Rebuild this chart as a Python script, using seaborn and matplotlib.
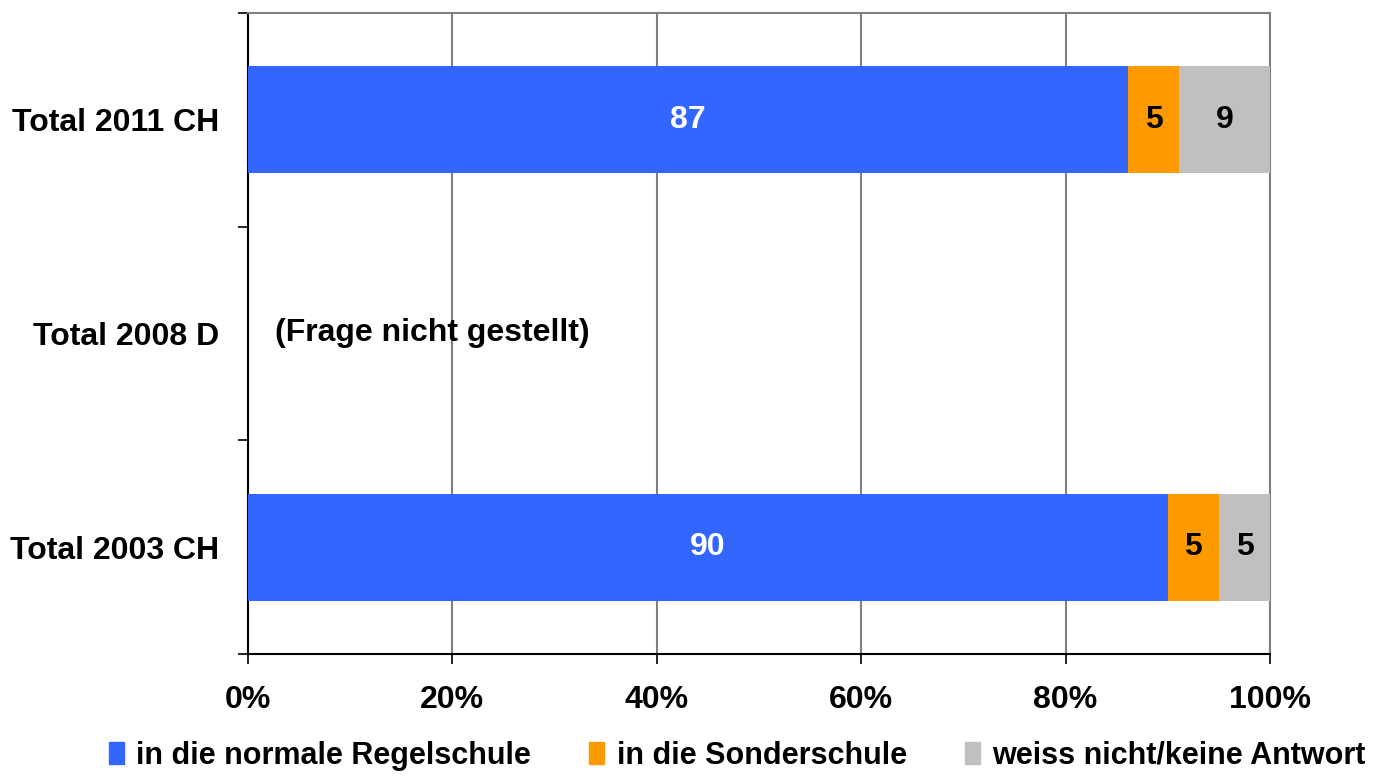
import pandas as pd
import numpy as np
import matplotlib.pyplot as plt
import seaborn as sns
from matplotlib.patches import Patch

sns.set_style('white')
plt.rcParams['font.family'] = ['Liberation Sans', 'DejaVu Sans']
plt.rcParams['font.weight'] = 'bold'
plt.rcParams['text.color'] = 'black'
plt.rcParams['xtick.color'] = 'black'
plt.rcParams['ytick.color'] = 'black'

categories = ['Total 2011 CH', 'Total 2008 D', 'Total 2003 CH']
regelschule = [87, np.nan, 90]
sonderschule = [5, np.nan, 5]
weiss_nicht = [9, np.nan, 5]
series_names = ['in die normale Regelschule', 'in die Sonderschule', 'weiss nicht/keine Antwort']
colors = ['#3366FF', '#FF9900', '#C0C0C0']
note_text = '(Frage nicht gestellt)'

df = pd.DataFrame({'cat': categories, 'regel': regelschule,
                   'sonder': sonderschule, 'weiss': weiss_nicht})
total = df[['regel', 'sonder', 'weiss']].sum(axis=1, min_count=1)
df['p1'] = df['regel'] / total * 100
df['p2'] = (df['regel'] + df['sonder']) / total * 100
df['p3'] = (df['regel'] + df['sonder'] + df['weiss']) / total * 100

fs = 23
fig = plt.figure(figsize=(13.99, 7.81), dpi=100)
ax = fig.add_axes([248 / 1399, 1 - 654 / 781, (1270 - 248) / 1399, (654 - 13) / 781])

# stack by drawing cumulative totals back to front
for col, c in zip(['p3', 'p2', 'p1'], colors[::-1]):
    sns.barplot(data=df, y='cat', x=col, order=categories, color=c,
                orient='h', width=0.5, saturation=1, ax=ax, zorder=3,
                linewidth=0)

# value labels
for i, row in df.iterrows():
    if np.isnan(row['regel']):
        continue
    ax.text(row['p1'] / 2, i, f"{row['regel']:.0f}", color='white',
            ha='center', va='center', fontsize=fs, fontweight='bold', zorder=4)
    ax.text((row['p1'] + row['p2']) / 2, i, f"{row['sonder']:.0f}", color='black',
            ha='center', va='center', fontsize=fs, fontweight='bold', zorder=4)
    ax.text((row['p2'] + row['p3']) / 2, i, f"{row['weiss']:.0f}", color='black',
            ha='center', va='center', fontsize=fs, fontweight='bold', zorder=4)
ax.text(2.6, 1, note_text, ha='left', va='center', fontsize=fs,
        fontweight='bold', zorder=4)

ax.set_xlim(0, 100)
ax.set_ylim(2.5, -0.5)
ax.set_xticks([0, 20, 40, 60, 80, 100])
ax.set_xticklabels([f'{v}%' for v in range(0, 101, 20)])
ax.set_xlabel('')
ax.set_ylabel('')
ax.set_yticks([-0.5, 0.5, 1.5, 2.5], minor=True)
ax.tick_params(axis='y', which='major', length=0, pad=21, labelsize=fs)
ax.tick_params(axis='y', which='minor', length=7, width=1.2, direction='out', left=True)
ax.tick_params(axis='x', length=7, width=1.2, direction='out', bottom=True, pad=15, labelsize=fs)
for lab in ax.get_xticklabels() + ax.get_yticklabels():
    lab.set_fontweight('bold')

ax.grid(axis='x', color='#808080', linewidth=1.5, zorder=0)
ax.set_axisbelow(True)
for side in ['left', 'bottom']:
    ax.spines[side].set_color('black')
    ax.spines[side].set_linewidth(1.5)
for side in ['top', 'right']:
    ax.spines[side].set_color('#808080')
    ax.spines[side].set_linewidth(1.5)

handles = [Patch(color=c) for c in colors]
fig.legend(handles, series_names, loc='lower center', ncol=3, frameon=False,
           bbox_to_anchor=(0.527, -0.022), handlelength=0.5,
           handleheight=0.75, handletextpad=0.4, columnspacing=1.9,
           prop={'weight': 'bold', 'size': 22})

fig.savefig('out.png', dpi=100)
